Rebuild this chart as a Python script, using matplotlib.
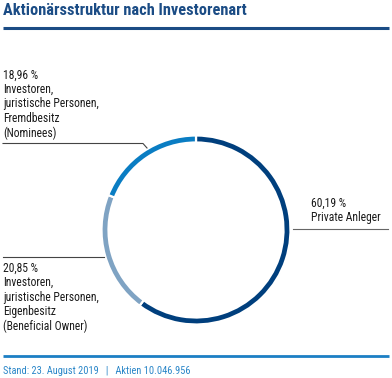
import matplotlib
matplotlib.use("Agg")
import matplotlib.pyplot as plt

title = "Aktionärsstruktur nach Investorenart"
categories = ["Private Anleger",
              "Investoren,\njuristische Personen,\nEigenbesitz\n(Beneficial Owner)",
              "Investoren,\njuristische Personen,\nFremdbesitz\n(Nominees)"]
values = [60.19, 20.85, 18.96]
value_labels = ["60,19 %", "20,85 %", "18,96 %"]
colors = ["#003F7D", "#7FA3C3", "#0A7DC3"]
footer = "Stand: 23. August 2019   |   Aktien 10.046.956"

W, H = 392, 378
fig = plt.figure(figsize=(W / 100, H / 100), dpi=100)
ax = fig.add_axes([0, 0, 1, 1])

def Y(y):
    return H - y

FONT = ["Roboto Condensed", "DejaVu Sans"]

# donut
cx, cy, r = 196, Y(230), 94.5
ax.pie(values, colors=colors, startangle=90, counterclock=False,
       center=(cx, cy), radius=r, frame=True,
       wedgeprops=dict(width=7, edgecolor="white", linewidth=1.6))
ax.set_xlim(0, W)
ax.set_ylim(0, H)
ax.set_aspect("equal")
ax.axis("off")

# title
ax.text(3, Y(10.8), title, fontsize=11.8, fontweight="bold", color="#1B4C85",
        family=FONT, va="center", ha="left")
ax.plot([3, 389], [Y(27.5), Y(27.5)], color="#1B4C85", lw=2.2, solid_capstyle="butt")

tc = "#1a1a1a"
fs = 8.4
lh = 14.5

# top-left label (Nominees)
lines = [value_labels[2]] + categories[2].split("\n")
for i, t in enumerate(lines):
    ax.text(3, Y(75 + i * lh), t, fontsize=fs, color=tc, family=FONT, va="center", ha="left")
ax.plot([3, 143, 147], [Y(143.5), Y(143.5), Y(148)], color="#444444", lw=0.8)

# right label (Private)
ax.text(311, Y(203), value_labels[0], fontsize=fs, color=tc, family=FONT, va="center", ha="left")
ax.text(311, Y(218), categories[0], fontsize=fs, color=tc, family=FONT, va="center", ha="left")
ax.plot([293, 388], [Y(229), Y(229)], color="#666666", lw=0.8)

# bottom-left label (Beneficial Owner)
lines = [value_labels[1]] + categories[1].split("\n")
for i, t in enumerate(lines):
    ax.text(3, Y(268 + i * lh), t, fontsize=fs, color=tc, family=FONT, va="center", ha="left")
ax.plot([3, 104], [Y(256.5), Y(256.5)], color="#444444", lw=0.8)

# footer
ax.plot([3, 389], [Y(356), Y(356)], color="#1C7FC4", lw=2.0, solid_capstyle="butt")
ax.text(3, Y(371), footer, fontsize=7.5, color="#2A86C8", family=FONT, va="center", ha="left")

fig.savefig("out.png", dpi=100)
